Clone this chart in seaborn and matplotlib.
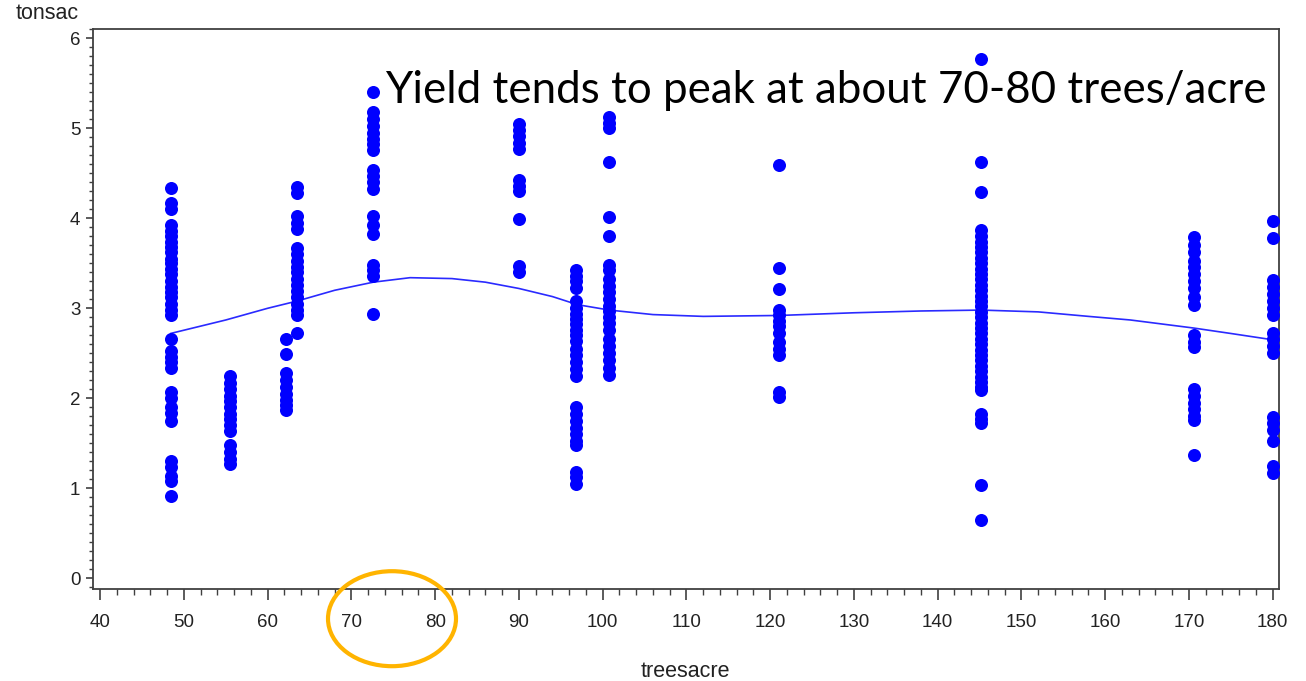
import matplotlib
matplotlib.use("Agg")
import matplotlib.pyplot as plt
from matplotlib.patches import Ellipse
from matplotlib.ticker import MultipleLocator
import seaborn as sns
import pandas as pd

# ---- data ----
tree_levels = [48.4, 55.5, 62.2, 63.5, 72.6, 90.0, 96.8, 100.8, 121.0, 145.2, 170.6, 180.0]

y_48 = [4.34, 4.17, 4.10, 3.92, 3.86, 3.80, 3.74, 3.68, 3.62, 3.55, 3.50, 3.44, 3.38,
        3.30, 3.24, 3.18, 3.12, 3.05, 2.98, 2.92, 2.66, 2.52, 2.46, 2.40, 2.34,
        2.07, 2.00, 1.90, 1.84, 1.75, 1.30, 1.24, 1.14, 1.08, 0.91]
y_55 = [2.25, 2.17, 2.10, 2.03, 1.97, 1.90, 1.83, 1.77, 1.70, 1.64, 1.48, 1.40, 1.33, 1.27]
y_62 = [2.66, 2.49, 2.28, 2.20, 2.12, 2.05, 1.98, 1.92, 1.87]
y_63 = [4.35, 4.28, 4.02, 3.95, 3.88, 3.67, 3.60, 3.53, 3.46, 3.40, 3.33, 3.26, 3.19,
        3.12, 3.05, 2.98, 2.92, 2.73]
y_72 = [5.40, 5.18, 5.10, 5.03, 4.95, 4.88, 4.82, 4.76, 4.54, 4.47, 4.40, 4.33,
        4.03, 3.92, 3.82, 3.48, 3.42, 3.36, 2.94]
y_90 = [5.05, 4.98, 4.91, 4.84, 4.77, 4.42, 4.36, 4.30, 3.99, 3.47, 3.40]
y_96 = [3.42, 3.36, 3.30, 3.22, 3.08, 3.00, 2.94, 2.88, 2.82, 2.76, 2.70, 2.64, 2.55,
        2.48, 2.40, 2.32, 2.25, 1.90, 1.82, 1.75, 1.67, 1.60, 1.52, 1.48, 1.18, 1.12, 1.05]
y_100 = [5.13, 5.06, 5.00, 4.63, 4.01, 3.80, 3.48, 3.42, 3.32, 3.25, 3.18, 3.10, 3.03,
         2.97, 2.90, 2.84, 2.76, 2.66, 2.58, 2.50, 2.42, 2.34, 2.26]
y_121 = [4.59, 3.45, 3.21, 2.98, 2.92, 2.86, 2.80, 2.72, 2.62, 2.55, 2.48, 2.07, 2.01]
y_145 = [5.77, 4.62, 4.29, 3.87, 3.80, 3.74, 3.68, 3.62, 3.56, 3.50, 3.44, 3.38, 3.32,
         3.26, 3.20, 3.14, 3.08, 3.02, 2.96, 2.90, 2.84, 2.78, 2.72, 2.66, 2.60, 2.54,
         2.48, 2.42, 2.36, 2.30, 2.24, 2.18, 2.12, 2.09, 1.83, 1.77, 1.72, 1.04, 0.65]
y_170 = [3.79, 3.70, 3.62, 3.52, 3.46, 3.38, 3.30, 3.22, 3.12, 3.04, 2.70, 2.63, 2.57,
         2.10, 2.03, 1.95, 1.88, 1.80, 1.76, 1.37]
y_180 = [3.97, 3.78, 3.31, 3.24, 3.16, 3.08, 3.00, 2.92, 2.73, 2.66, 2.58, 2.50,
         1.79, 1.72, 1.65, 1.52, 1.25, 1.17]

column_values = [y_48, y_55, y_62, y_63, y_72, y_90, y_96, y_100, y_121, y_145, y_170, y_180]

smooth_x = [48.4, 55, 60, 63.5, 68, 72.6, 77, 82, 86, 90, 94, 97, 100.8, 106, 112, 121,
            130, 138, 145.2, 152, 158, 163, 170.6, 175, 180]
smooth_y = [2.72, 2.87, 3.00, 3.08, 3.20, 3.29, 3.34, 3.33, 3.29, 3.22, 3.13, 3.04, 2.98,
            2.93, 2.91, 2.92, 2.95, 2.97, 2.98, 2.96, 2.91, 2.87, 2.78, 2.72, 2.65]

x_label = "treesacre"
y_label = "tonsac"
note = "Yield tends to peak at about 70-80 trees/acre"

# ---- build frames ----
xs, ys = [], []
for xv, col in zip(tree_levels, column_values):
    xs += [xv] * len(col)
    ys += col
points = pd.DataFrame({"treesacre": xs, "tonsac": ys})
curve = pd.DataFrame({"treesacre": smooth_x, "tonsac": smooth_y})

sns.set_style("white")
plt.rcParams["font.family"] = ["Liberation Sans", "DejaVu Sans"]

W, H = 1306, 681
fig = plt.figure(figsize=(W / 100, H / 100), dpi=100)
ax = fig.add_axes([93.3 / W, 1 - 588.7 / H, (1279 - 93.3) / W, (588.7 - 29.3) / H])

sns.scatterplot(data=points, x="treesacre", y="tonsac", ax=ax, color="#0000ff",
                s=88, linewidth=0, marker="o", zorder=3)
sns.lineplot(data=curve, x="treesacre", y="tonsac", ax=ax, color="#2a2aff",
             linewidth=1.2, zorder=2)

ax.set_xlim(39.18, 180.75)
ax.set_ylim(-0.116, 6.1)
ax.xaxis.set_major_locator(MultipleLocator(10))
ax.xaxis.set_minor_locator(MultipleLocator(2))
ax.yaxis.set_major_locator(MultipleLocator(1))
ax.yaxis.set_minor_locator(MultipleLocator(0.1))

for sp in ax.spines.values():
    sp.set_color("#404040")
    sp.set_linewidth(1.3)

ax.tick_params(axis="x", which="major", length=8, width=1.2, color="#404040",
               labelsize=13.5, pad=10, labelcolor="#222222", direction="out", bottom=True)
ax.tick_params(axis="x", which="minor", length=4, width=1.0, color="#404040", bottom=True)
ax.tick_params(axis="y", which="major", length=5.3, width=1.2, color="#404040",
               labelsize=13.5, pad=4, labelcolor="#222222", direction="out", left=True)
ax.tick_params(axis="y", which="minor", length=3, width=1.0, color="#404040", left=True)

ax.set_xlabel(x_label, fontsize=15.5, color="#222222")
ax.xaxis.set_label_coords(0.499, -0.148)
ax.xaxis.label.set_va("center")
ax.set_ylabel(y_label, fontsize=15.5, color="#222222", rotation=0)
ax.yaxis.set_label_coords(-0.039, 1.0274)
ax.yaxis.label.set_va("center")
ax.yaxis.label.set_ha("center")

# annotation text, fitted to the reference width
t = fig.text(385 / W, 1 - 103.3 / H, note, fontsize=30, family=["Lato", "DejaVu Sans"],
             color="black", ha="left", va="baseline")
fig.canvas.draw()
w = t.get_window_extent(renderer=fig.canvas.get_renderer()).width
t.set_fontsize(30 * 880 / w)

# orange ellipse around 70-80
ell = Ellipse((392 / W, 1 - 618.7 / H), 128 / W, 95 / H, transform=fig.transFigure,
              fill=False, edgecolor="#ffb400", linewidth=3)
fig.add_artist(ell)

fig.savefig("out.png", dpi=100)
